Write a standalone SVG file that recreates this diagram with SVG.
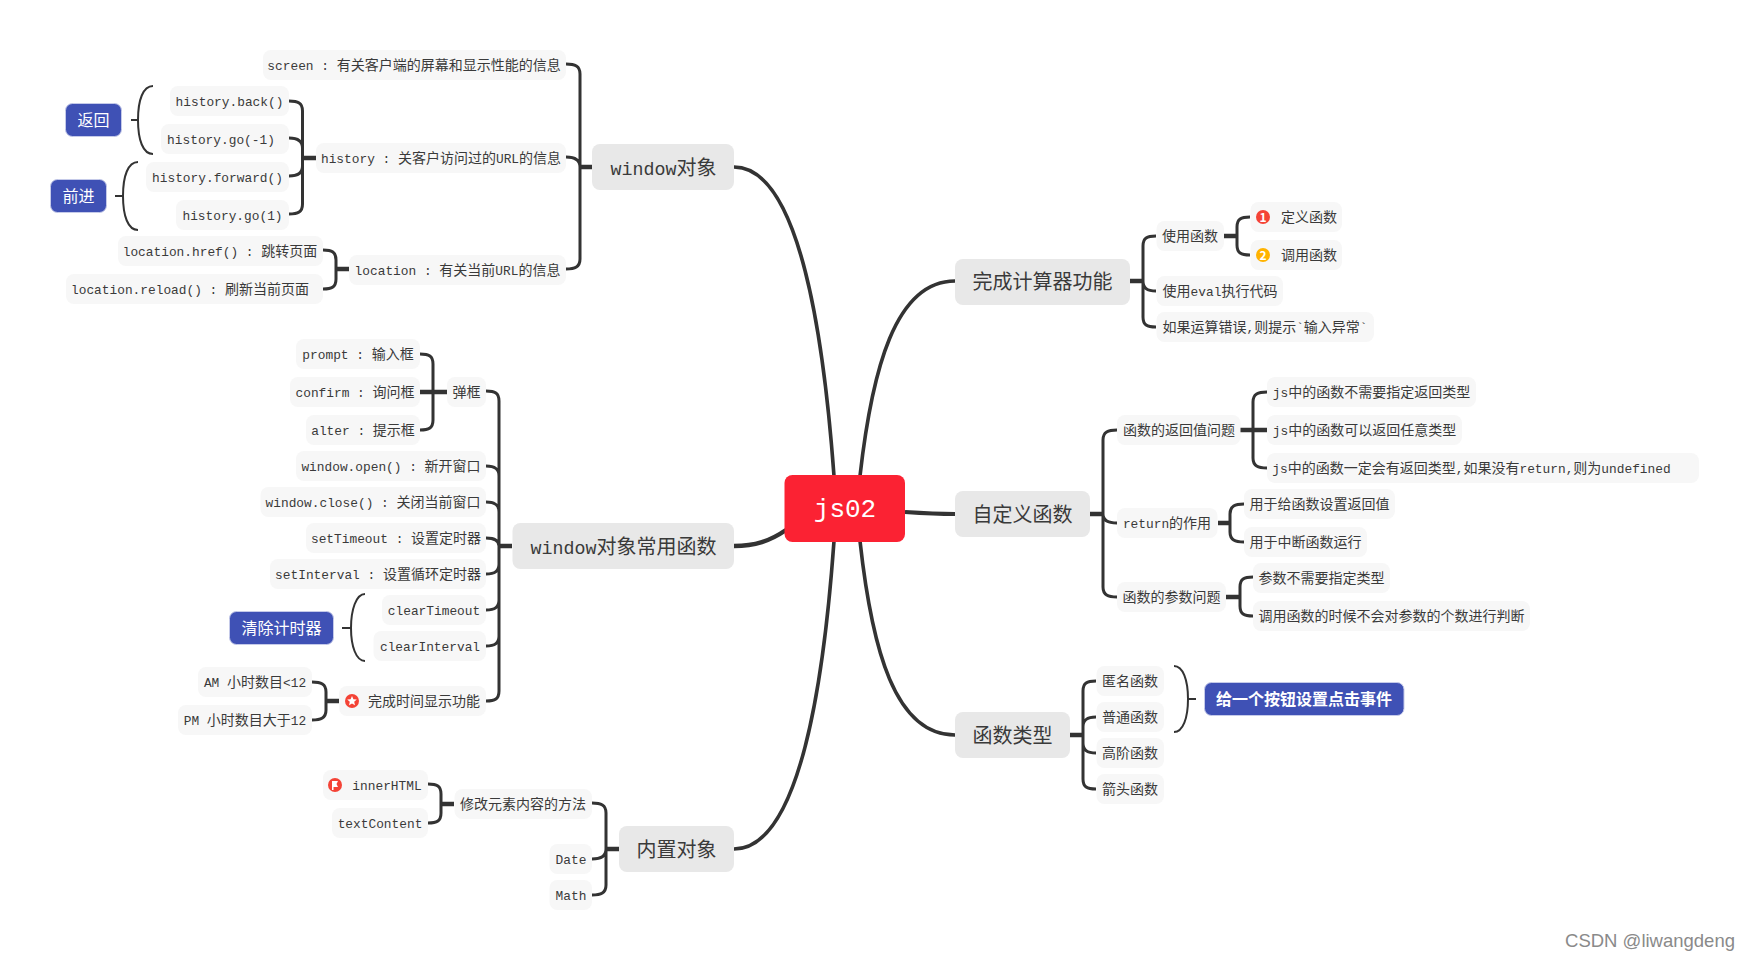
<svg xmlns="http://www.w3.org/2000/svg" width="1750" height="960" viewBox="0 0 1750 960">
<style>
text{font-family:"Noto Sans CJK SC","Liberation Sans",sans-serif;text-anchor:middle;fill:#3a3a3a}
.m{font-family:"Liberation Mono","Noto Sans CJK SC",monospace}
.s rect{fill:#f7f7f7}
.s text{font-size:14px}
.s .m{font-size:12.83px}
.b rect{fill:#e8e8e8}
.b text{font-size:20px}
.b .m{font-size:18.3px}
.l rect{fill:#3f51b5;stroke:#c5cae9;stroke-width:1}
.l text{font-size:16px;fill:#fff}
#conn path{fill:none;stroke:#333;stroke-width:3;stroke-linecap:butt}
#conn .st{stroke-width:4.5}
#conn .c{stroke-width:3.6}
#conn .br{stroke-width:2}
</style>
<rect width="1750" height="960" fill="#fff"/>
<g id="conn">
<path class="c" d="M834 476C824 340 800 167 734 167"/>
<path class="c" d="M860 476C872 370 895 281 955 281"/>
<path class="c" style="stroke-width:4.500" d="M786 530C770 541 755 546 734 546"/>
<path class="c" style="stroke-width:4" d="M905 512C920 513 935 514 955 514"/>
<path class="c" d="M834 541C824 680 800 849 734 849"/>
<path class="c" d="M860 541C872 650 895 735 955 735"/>
<path d="M566 64C575 64 580 66 580 74V259C580 267 575 269 566 269M566 157C575 157 580 160 580 167"/><path class="st" d="M592 167H580"/>
<path d="M289 101C298 101 302.500 103 302.500 111V204C302.500 212 298 214 289 214M289 138C298 138 302.500 141 302.500 148M289 176C298 176 302.500 173 302.500 166"/><path class="st" d="M316 158H302"/>
<path d="M323 250C332 250 336 252 336 260V279C336 287 332 289 323 289"/><path class="st" d="M349 269H336"/>
<path class="br" d="M153 86C143 86 138 100 138 120C138 140 143 154 153 154M131 120H138"/>
<path class="br" d="M138 162C128 162 123 176 123 196C123 216 128 230 138 230M115 196H123"/>
<path d="M486 391C495 391 499 393 499 401V691C499 699 495 701 486 701M486 466C495 466 499 469 499 476M486 502C495 502 499 505 499 512M486 538C495 538 499 541 499 546M486 574C495 574 499 571 499 564M486 610C495 610 499 607 499 600M486 646C495 646 499 643 499 636"/><path class="st" d="M512 546H499"/>
<path d="M420 354C429 354 433 356 433 364V420C433 428 429 430 420 430"/><path class="st" d="M420 392H447"/>
<path class="br" d="M365 594C356 594 351 610 351 628C351 646 356 661 365 661M342 628H351"/>
<path d="M312 682C321 682 326 684 326 692V710C326 718 321 720 312 720"/><path class="st" d="M339 701H326"/>
<path d="M428 784C437 784 441 786 441 794V813C441 821 437 823 428 823"/><path class="st" d="M454 804H441"/>
<path d="M592 803C601 803 606 805 606 813V885C606 893 601 895 592 895M592 859C601 859 606 856 606 849"/><path class="st" d="M619 849H606"/>
<path d="M1156 236C1147 236 1143 238 1143 246V317C1143 325 1147 327 1156 327M1156 291C1147 291 1143 288 1143 281"/><path class="st" d="M1130 281H1143"/>
<path d="M1250 217C1241 217 1237 219 1237 227V245C1237 253 1241 255 1250 255"/><path class="st" d="M1224 236H1237"/>
<path d="M1117 430C1108 430 1103 432 1103 440V587C1103 595 1108 597 1117 597M1117 523C1108 523 1103 520 1103 514"/><path class="st" d="M1090 514H1103"/>
<path d="M1267 392C1258 392 1253 394 1253 402V458C1253 466 1258 468 1267 468"/><path class="st" d="M1240 430H1267"/>
<path d="M1244 504C1235 504 1230 506 1230 514V532C1230 540 1235 542 1244 542"/><path class="st" d="M1218 523H1230"/>
<path d="M1253 577C1244 577 1240 579 1240 587V606C1240 614 1244 616 1253 616"/><path class="st" d="M1226 597H1240"/>
<path d="M1096 681C1087 681 1083 683 1083 691V779C1083 787 1087 789 1096 789M1096 717C1087 717 1083 720 1083 727M1096 753C1087 753 1083 750 1083 743"/><path class="st" d="M1070 735H1083"/>
<path class="br" d="M1174 666C1183 666 1188 680 1188 699C1188 718 1183 732 1174 732M1188 699H1196"/>
</g>
<g id="root"><rect x="784.500" y="475" width="120.500" height="67" rx="8" fill="#fb2233"/><text class="m" x="845" y="517" style="font-size:26px;fill:#fff">js02</text></g>
<g id="n1" class="b"><rect x="592" y="144" width="142" height="46" rx="8"/><text x="663.500" y="175"><tspan class="m">window</tspan>对象</text></g>
<g id="n1a" class="s"><rect x="263" y="50" width="303" height="30" rx="8"/><text x="414" y="70"><tspan class="m">screen : </tspan>有关客户端的屏幕和显示性能的信息</text></g>
<g id="n1b" class="s"><rect x="316" y="143" width="250" height="30" rx="8"/><text x="441" y="163"><tspan class="m">history : </tspan>关客户访问过的<tspan class="m">URL</tspan>的信息</text></g>
<g id="n1c" class="s"><rect x="349" y="255" width="217" height="30" rx="8"/><text x="457.500" y="275"><tspan class="m">location : </tspan>有关当前<tspan class="m">URL</tspan>的信息</text></g>
<g id="n1b1" class="s"><rect x="170" y="86" width="119" height="30" rx="8"/><text class="m" x="229.500" y="105.500">history.back()</text></g>
<g id="n1b2" class="s"><rect x="161" y="124" width="128" height="30" rx="8"/><text class="m" x="221" y="143.500">history.go(-1)</text></g>
<g id="n1b3" class="s"><rect x="146" y="162" width="143" height="30" rx="8"/><text class="m" x="217.500" y="181.500">history.forward()</text></g>
<g id="n1b4" class="s"><rect x="176" y="200" width="113" height="30" rx="8"/><text class="m" x="232.500" y="219.500">history.go(1)</text></g>
<g id="n1c1" class="s"><rect x="118" y="236" width="205" height="30" rx="8"/><text x="220" y="256"><tspan class="m">location.href() : </tspan>跳转页面</text></g>
<g id="n1c2" class="s"><rect x="66" y="274" width="257" height="30" rx="8"/><text x="190" y="294"><tspan class="m">location.reload() : </tspan>刷新当前页面</text></g>
<g id="l1" class="l"><rect x="65.500" y="103.500" width="56" height="33" rx="7"/><text x="93.500" y="126">返回</text></g>
<g id="l2" class="l"><rect x="50.500" y="179.500" width="56" height="33" rx="7"/><text x="78.500" y="202">前进</text></g>
<g id="n2" class="b"><rect x="512.500" y="523" width="221.500" height="46" rx="8"/><text x="623.500" y="554"><tspan class="m">window</tspan>对象常用函数</text></g>
<g id="n2a" class="s"><rect x="447" y="377" width="39" height="30" rx="8"/><text x="466.500" y="397">弹框</text></g>
<g id="n2a1" class="s"><rect x="296" y="339" width="124" height="30" rx="8"/><text x="358" y="359"><tspan class="m">prompt : </tspan>输入框</text></g>
<g id="n2a2" class="s"><rect x="290" y="377" width="130" height="30" rx="8"/><text x="355" y="397"><tspan class="m">confirm : </tspan>询问框</text></g>
<g id="n2a3" class="s"><rect x="306" y="415" width="114" height="30" rx="8"/><text x="363" y="435"><tspan class="m">alter : </tspan>提示框</text></g>
<g id="n2b" class="s"><rect x="296" y="451" width="190" height="30" rx="8"/><text x="391" y="471"><tspan class="m">window.open() : </tspan>新开窗口</text></g>
<g id="n2c" class="s"><rect x="260.500" y="487" width="225.500" height="30" rx="8"/><text x="373" y="507"><tspan class="m">window.close() : </tspan>关闭当前窗口</text></g>
<g id="n2d" class="s"><rect x="306" y="523" width="180" height="30" rx="8"/><text x="396" y="543"><tspan class="m">setTimeout : </tspan>设置定时器</text></g>
<g id="n2e" class="s"><rect x="270" y="559" width="216" height="30" rx="8"/><text x="378" y="579"><tspan class="m">setInterval : </tspan>设置循环定时器</text></g>
<g id="n2f" class="s"><rect x="382" y="595" width="104" height="30" rx="8"/><text class="m" x="434" y="614.500">clearTimeout</text></g>
<g id="n2g" class="s"><rect x="373.500" y="631" width="112.500" height="30" rx="8"/><text class="m" x="430" y="650.500">clearInterval</text></g>
<g id="l3" class="l"><rect x="229.500" y="611.500" width="104" height="33" rx="7"/><text x="281.500" y="634">清除计时器</text></g>
<g id="n2h" class="s"><rect x="339" y="686" width="147" height="30" rx="8"/><circle cx="352" cy="701" r="7" fill="#f44336"/><polygon points="352,696 353.400,699.300 356.800,699.500 354.200,701.800 355,705.200 352,703.400 349,705.200 349.800,701.800 347.200,699.500 350.600,699.300" fill="#fff"/><text x="424" y="706">完成时间显示功能</text></g>
<g id="n2h1" class="s"><rect x="198" y="667" width="114" height="30" rx="8"/><text x="255" y="687"><tspan class="m">AM </tspan>小时数目<tspan class="m">&lt;12</tspan></text></g>
<g id="n2h2" class="s"><rect x="178" y="705" width="134" height="30" rx="8"/><text x="245" y="725"><tspan class="m">PM </tspan>小时数目大于<tspan class="m">12</tspan></text></g>
<g id="n3" class="b"><rect x="619" y="826" width="115" height="46" rx="8"/><text x="676.500" y="857">内置对象</text></g>
<g id="n3a" class="s"><rect x="454.500" y="789" width="137.500" height="30" rx="8"/><text x="523" y="809">修改元素内容的方法</text></g>
<g id="n3a1" class="s"><rect x="323" y="770" width="105" height="30" rx="8"/><circle cx="335" cy="785" r="7" fill="#f44336"/><path d="M332 781H338L336.500 784L338 787H333.500V790H332Z" fill="#fff"/><text class="m" x="387" y="789.500">innerHTML</text></g>
<g id="n3a2" class="s"><rect x="332" y="808" width="96" height="30" rx="8"/><text class="m" x="380" y="827.500">textContent</text></g>
<g id="n3b" class="s"><rect x="549.500" y="844" width="42.500" height="30" rx="8"/><text class="m" x="571" y="863.500">Date</text></g>
<g id="n3c" class="s"><rect x="549.500" y="880" width="42.500" height="30" rx="8"/><text class="m" x="571" y="899.500">Math</text></g>
<g id="n4" class="b"><rect x="955" y="259" width="175" height="46" rx="8"/><text x="1042.500" y="289">完成计算器功能</text></g>
<g id="n4a" class="s"><rect x="1156.500" y="221" width="67.500" height="30" rx="8"/><text x="1190" y="241">使用函数</text></g>
<g id="n4a1" class="s"><rect x="1250.500" y="202" width="91.500" height="30" rx="8"/><circle cx="1263" cy="217" r="7" fill="#f44336"/><text x="1263" y="221.500" style="font-size:12px;fill:#fff;font-weight:700">1</text><text x="1309" y="222">定义函数</text></g>
<g id="n4a2" class="s"><rect x="1250.500" y="240" width="91.500" height="30" rx="8"/><circle cx="1263" cy="255" r="7" fill="#ffb300"/><text x="1263" y="259.500" style="font-size:12px;fill:#fff;font-weight:700">2</text><text x="1309" y="260">调用函数</text></g>
<g id="n4b" class="s"><rect x="1156.500" y="276" width="126.500" height="30" rx="8"/><text x="1220" y="296">使用<tspan class="m">eval</tspan>执行代码</text></g>
<g id="n4c" class="s"><rect x="1156.500" y="312" width="217.500" height="30" rx="8"/><text x="1265" y="332">如果运算错误<tspan class="m">,</tspan>则提示<tspan class="m">`</tspan>输入异常<tspan class="m">`</tspan></text></g>
<g id="n5" class="b"><rect x="955" y="491" width="135" height="46" rx="8"/><text x="1022.500" y="522">自定义函数</text></g>
<g id="n5a" class="s"><rect x="1117" y="415" width="123.500" height="30" rx="8"/><text x="1179" y="435">函数的返回值问题</text></g>
<g id="n5a1" class="s"><rect x="1267" y="377" width="209" height="30" rx="8"/><text x="1371.500" y="397"><tspan class="m">js</tspan>中的函数不需要指定返回类型</text></g>
<g id="n5a2" class="s"><rect x="1267" y="415" width="195" height="30" rx="8"/><text x="1364.500" y="435"><tspan class="m">js</tspan>中的函数可以返回任意类型</text></g>
<g id="n5a3" class="s"><rect x="1267" y="453" width="432" height="30" rx="8"/><text x="1471.500" y="473"><tspan class="m">js</tspan>中的函数一定会有返回类型<tspan class="m">,</tspan>如果没有<tspan class="m">return,</tspan>则为<tspan class="m">undefined</tspan></text></g>
<g id="n5b" class="s"><rect x="1117" y="508" width="100.500" height="30" rx="8"/><text x="1167" y="528"><tspan class="m">return</tspan>的作用</text></g>
<g id="n5b1" class="s"><rect x="1244" y="489" width="151" height="30" rx="8"/><text x="1319.500" y="509">用于给函数设置返回值</text></g>
<g id="n5b2" class="s"><rect x="1244" y="527" width="123" height="30" rx="8"/><text x="1305.500" y="547">用于中断函数运行</text></g>
<g id="n5c" class="s"><rect x="1117" y="582" width="109" height="30" rx="8"/><text x="1171.500" y="602">函数的参数问题</text></g>
<g id="n5c1" class="s"><rect x="1253" y="563" width="137" height="30" rx="8"/><text x="1321.500" y="583">参数不需要指定类型</text></g>
<g id="n5c2" class="s"><rect x="1253" y="601" width="277" height="30" rx="8"/><text x="1391.500" y="621">调用函数的时候不会对参数的个数进行判断</text></g>
<g id="n6" class="b"><rect x="955" y="712" width="115" height="46" rx="8"/><text x="1012.500" y="743">函数类型</text></g>
<g id="n6a" class="s"><rect x="1096.500" y="666" width="67.500" height="30" rx="8"/><text x="1130" y="686">匿名函数</text></g>
<g id="n6b" class="s"><rect x="1096.500" y="702" width="67.500" height="30" rx="8"/><text x="1130" y="722">普通函数</text></g>
<g id="n6c" class="s"><rect x="1096.500" y="738" width="67.500" height="30" rx="8"/><text x="1130" y="758">高阶函数</text></g>
<g id="n6d" class="s"><rect x="1096.500" y="774" width="67.500" height="30" rx="8"/><text x="1130" y="794">箭头函数</text></g>
<g id="l4" class="l"><rect x="1204.500" y="682.500" width="199.500" height="33" rx="7"/><text x="1304" y="705" style="font-weight:700">给一个按钮设置点击事件</text></g>
<text x="1735" y="947" style="font-family:'Liberation Sans',sans-serif;font-size:18.500px;fill:#8a8a8a;text-anchor:end">CSDN @liwangdeng</text>
</svg>
